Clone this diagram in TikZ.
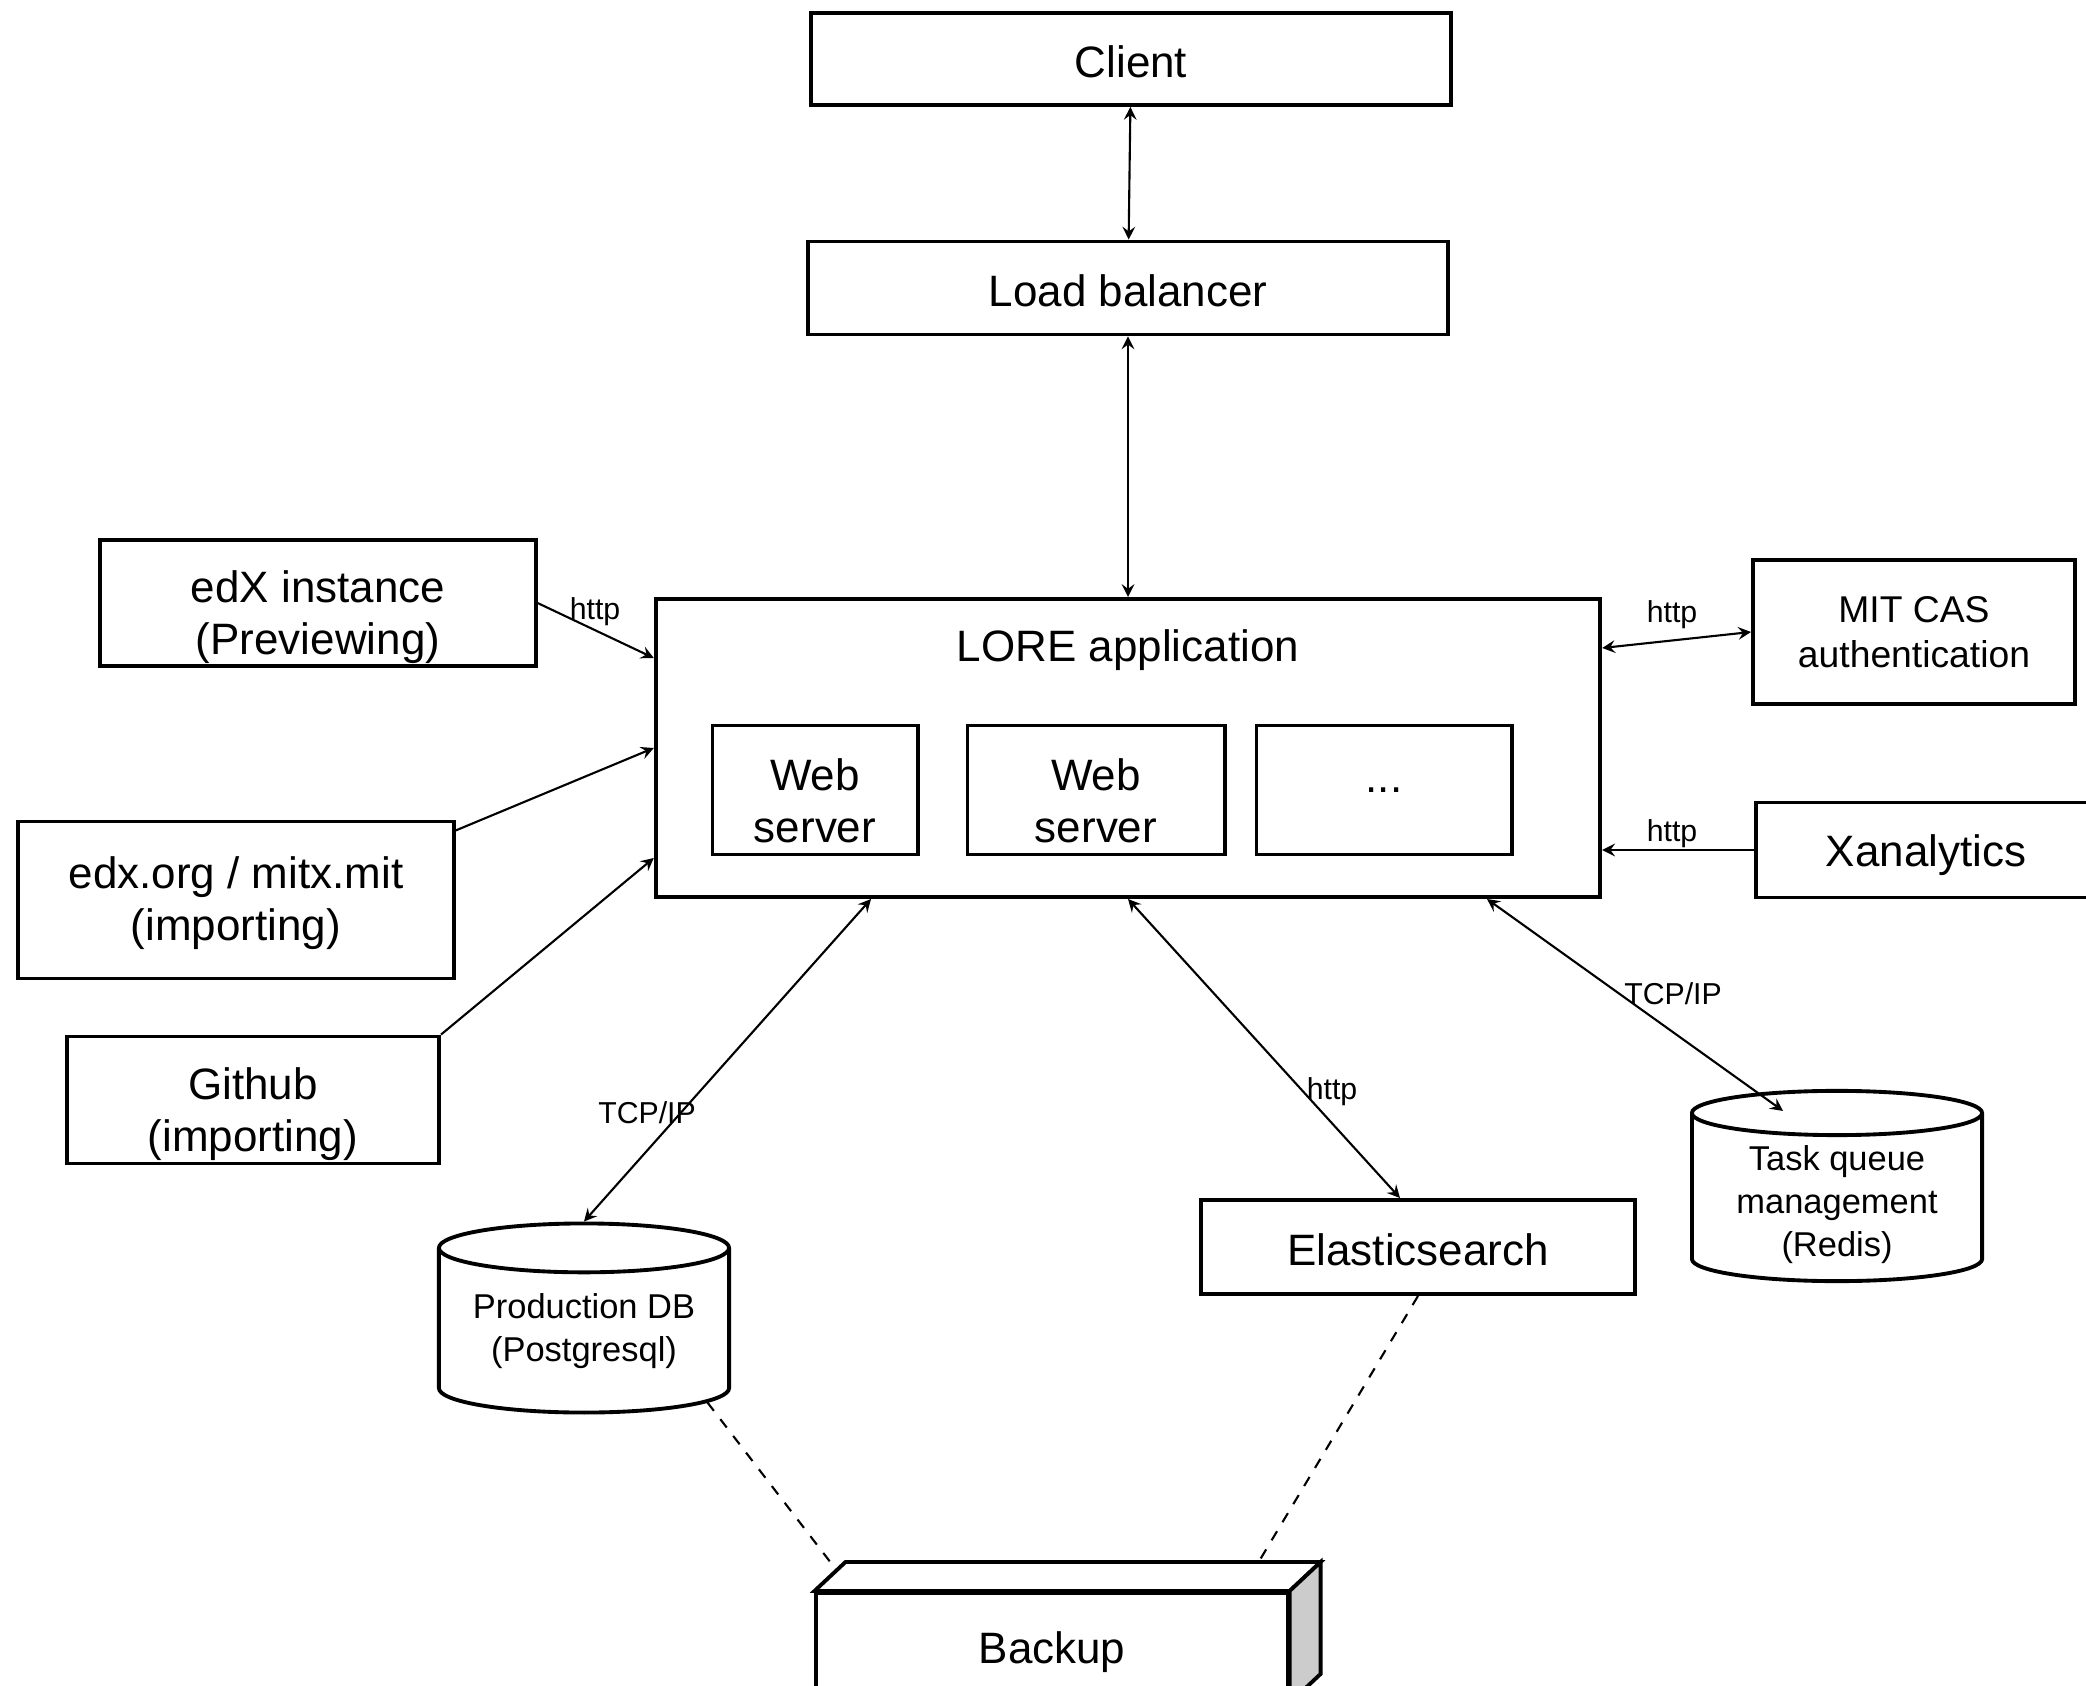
\documentclass[tikz,border=0pt]{standalone}
\usepackage{fontspec}
\setmainfont{Liberation Sans}
\usetikzlibrary{arrows,shapes,calc,positioning}

\begin{document}
\begin{tikzpicture}[
    x=0.01cm, y=-0.01cm,
    box/.style={draw, rectangle, line width=1.1pt, inner sep=0pt, align=center, font=\fontsize{12.5}{14.8}\selectfont},
    drop/.style={execute at begin node={\rule{0pt}{#1}}},
    db/.style={draw, cylinder, shape border rotate=90, aspect=0.22, line width=1.1pt, inner sep=0pt, minimum width=2.9cm, minimum height=1.89cm, anchor=shape center, align=center, font=\fontsize{9.8}{12.2}\selectfont},
    lbl/.style={font=\fontsize{8.6}{10}\selectfont, inner sep=0pt},
    arrow/.style={->, line width=0.6pt, >=stealth},
    biarrow/.style={<->, line width=0.6pt, >=stealth},
    backupline/.style={dashed, line width=0.6pt}
]
    \path [use as bounding box, clip] (0,0) rectangle (2086,1686);

    % top of the stack
    \node [box, drop=0.38cm, minimum width=6.39cm, minimum height=0.92cm] (client) at (1131,59) {Client};
    \node [box, drop=0.38cm, minimum width=6.39cm, minimum height=0.93cm] (lb) at (1128,288) {Load balancer};

    % application with its servers
    \node [box, minimum width=9.44cm, minimum height=2.98cm,
           label={[anchor=center, yshift=-0.53cm, font=\fontsize{12.5}{14.8}\selectfont]north:LORE application}] (lore) at (1128,748) {};
    \node [box, minimum width=2.05cm, minimum height=1.29cm] (web1) at (815,790) {\rule{0pt}{0.54cm}Web\\server};
    \node [box, minimum width=2.57cm, minimum height=1.29cm] (web2) at (1096,790) {\rule{0pt}{0.54cm}Web\\server};
    \node [box, minimum width=2.55cm, minimum height=1.29cm] (moreweb) at (1384,790) {...};

    % sources on the left
    \node [box, minimum width=4.35cm, minimum height=1.26cm] (edx) at (318,603) {\rule{0pt}{0.61cm}edX instance\\(Previewing)};
    \node [box, minimum width=4.35cm, minimum height=1.57cm] (edxorg) at (236,900) {\rule{0pt}{0.38cm}edx.org / mitx.mit\\(importing)};
    \node [box, minimum width=3.72cm, minimum height=1.27cm] (github) at (253,1100) {\rule{0pt}{0.61cm}Github\\(importing)};

    % services on the right
    \node [box, minimum width=3.22cm, minimum height=1.44cm, font=\fontsize{10.6}{12.8}\selectfont] (mitcas) at (1914,632) {MIT CAS\\authentication};
    \node [box, drop=0.42cm, minimum width=3.40cm, minimum height=0.95cm] (xanalytics) at (1926,850) {Xanalytics};

    % storage
    \node [db] (proddb) at (584,1318) {Production DB\\(Postgresql)};
    \node [box, drop=0.38cm, minimum width=4.34cm, minimum height=0.94cm] (elastic) at (1418,1247) {Elasticsearch};
    \node [db, inner ysep=-0.045cm] (redis) at (1837,1186) {\rule{0pt}{0.38cm}Task queue\\management\\(Redis)};

    % backup box
    \node [box, drop=0.42cm, minimum width=4.71cm, minimum height=1.08cm] (backup) at (1052,1647) {Backup};
    \draw [line width=1.1pt, fill=white] (backup.north west) -- ++(31,-29) -- ($(backup.north east)+(31,-29)$) -- (backup.north east) -- cycle;
    \draw [line width=1.1pt, fill=gray!40] (backup.north east) -- ++(31,-29) -- ($(backup.south east)+(31,-29)$) -- (backup.south east) -- cycle;

    \draw [biarrow] (client) -- (lb);
    \draw [biarrow] (lb) -- (lore);

    \draw [arrow] (edx.east) -- ($(lore.west)+(0,-90)$);
    \draw [arrow] ($(edxorg.north east)+(0,11)$) -- (lore.west);
    \draw [arrow] (github.north east) -- ($(lore.west)+(0,110)$);

    \draw [biarrow] ($(lore.east)+(0,-100)$) -- (mitcas.west);
    \draw [arrow] (xanalytics.west) -- ($(lore.east)+(0,102)$);

    \draw [biarrow] ($(lore.south)+(-257,0)$) -- (proddb.north);
    \draw [biarrow] (lore.south) -- ($(elastic.north)+(-18,0)$);
    \draw [biarrow] ($(lore.south)+(359,0)$) -- ($(redis.north)+(-54,22)$);

    \draw [backupline] (proddb.-30) -- ($(backup.north west)+(22,-21)$);
    \draw [backupline] (elastic.south) -- ($(backup.north east)+(-31,-29)$);

    % connector labels
    \node [lbl] (httpedx) at (595,612) {http};
    \node [lbl] (httpcas) at (1672,615) {http};
    \node [lbl] (httpxan) at (1672,834) {http};
    \node [lbl] (tcpdb) at (647,1113) {TCP/IP};
    \node [lbl] (httpelastic) at (1332,1092) {http};
    \node [lbl] (tcpredis) at (1673,994) {TCP/IP};

\end{tikzpicture}
\end{document}
